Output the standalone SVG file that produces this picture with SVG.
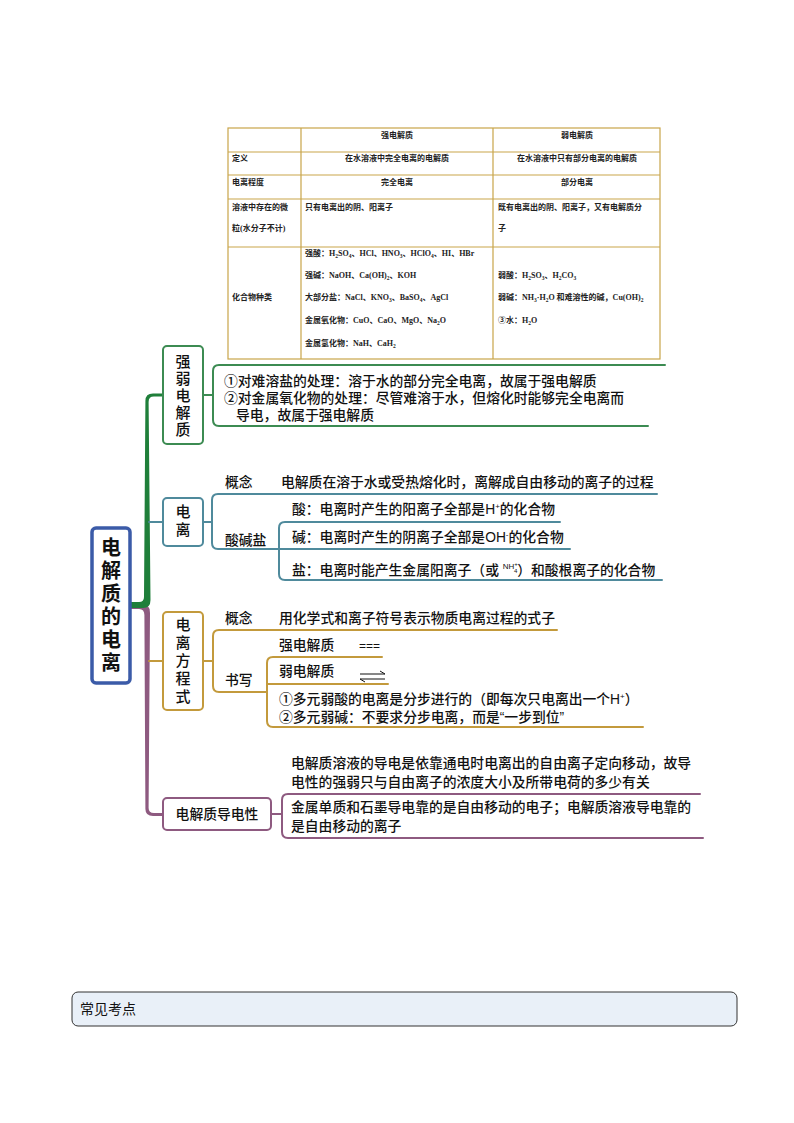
<svg xmlns="http://www.w3.org/2000/svg" width="794" height="1123" viewBox="0 0 794 1123">
<style>
.tb{font-family:"Liberation Serif","Noto Sans CJK SC",serif;font-size:8px;font-weight:bold;fill:#222}
.t{font-family:"Liberation Sans","Noto Sans CJK SC",sans-serif;font-size:13.8px;fill:#111;font-weight:500}
.nv{font-family:"Noto Sans CJK SC",sans-serif;font-size:15px;fill:#111;font-weight:500;writing-mode:vertical-rl}
.cv{font-family:"Noto Sans CJK SC",sans-serif;font-size:20px;fill:#111;font-weight:600;writing-mode:vertical-rl;letter-spacing:3px}
.grid{stroke:#c9a54a;stroke-width:1.2;fill:none}
.ln{fill:none;stroke-width:2;stroke-linecap:round;stroke-linejoin:round}
.g{stroke:#3c8b52}.te{stroke:#4f8a9c}.go{stroke:#c39a3c}.pu{stroke:#8e5a80}
.sup{font-size:8px}
</style>

<g id="table">
<rect x="228" y="128" width="432" height="231" class="grid"/>
<path class="grid" d="M228,152H660M228,175H660M228,199H660M228,247H660M301,128V359M493,128V359"/>
<text class="tb" x="397" y="138" text-anchor="middle">强电解质</text>
<text class="tb" x="577" y="138" text-anchor="middle">弱电解质</text>
<text class="tb" x="232" y="161">定义</text>
<text class="tb" x="397" y="161" text-anchor="middle">在水溶液中完全电离的电解质</text>
<text class="tb" x="577" y="161" text-anchor="middle">在水溶液中只有部分电离的电解质</text>
<text class="tb" x="232" y="185">电离程度</text>
<text class="tb" x="397" y="185" text-anchor="middle">完全电离</text>
<text class="tb" x="577" y="185" text-anchor="middle">部分电离</text>
<text class="tb" x="232" y="210">溶液中存在的微</text>
<text class="tb" x="232" y="231">粒(水分子不计)</text>
<text class="tb" x="305" y="210">只有电离出的阴、阳离子</text>
<text class="tb" x="498" y="210">既有电离出的阴、阳离子，又有电解质分</text>
<text class="tb" x="498" y="231">子</text>
<text class="tb" x="232" y="300">化合物种类</text>
<text class="tb" x="305" y="256">强酸：H<tspan font-size="5.5" dy="2">2</tspan><tspan dy="-2">SO</tspan><tspan font-size="5.5" dy="2">4</tspan><tspan dy="-2">、HCl、HNO</tspan><tspan font-size="5.5" dy="2">3</tspan><tspan dy="-2">、HClO</tspan><tspan font-size="5.5" dy="2">4</tspan><tspan dy="-2">、HI、HBr</tspan></text>
<text class="tb" x="305" y="278">强碱：NaOH、Ca(OH)<tspan font-size="5.5" dy="2">2</tspan><tspan dy="-2">、KOH</tspan></text>
<text class="tb" x="305" y="300">大部分盐：NaCl、KNO<tspan font-size="5.5" dy="2">3</tspan><tspan dy="-2">、BaSO</tspan><tspan font-size="5.5" dy="2">4</tspan><tspan dy="-2">、AgCl</tspan></text>
<text class="tb" x="305" y="323">金属氧化物：CuO、CaO、MgO、Na<tspan font-size="5.5" dy="2">2</tspan><tspan dy="-2">O</tspan></text>
<text class="tb" x="305" y="346">金属氢化物：NaH、CaH<tspan font-size="5.5" dy="2">2</tspan></text>
<text class="tb" x="498" y="278">弱酸：H<tspan font-size="5.5" dy="2">2</tspan><tspan dy="-2">SO</tspan><tspan font-size="5.5" dy="2">3</tspan><tspan dy="-2">、H</tspan><tspan font-size="5.5" dy="2">2</tspan><tspan dy="-2">CO</tspan><tspan font-size="5.5" dy="2">3</tspan></text>
<text class="tb" x="498" y="300">弱碱：NH<tspan font-size="5.5" dy="2">3</tspan><tspan dy="-2">·H</tspan><tspan font-size="5.5" dy="2">2</tspan><tspan dy="-2">O 和难溶性的碱，Cu(OH)</tspan><tspan font-size="5.5" dy="2">2</tspan></text>
<text class="tb" x="498" y="323">③水：H<tspan font-size="5.5" dy="2">2</tspan><tspan dy="-2">O</tspan></text>
</g>

<g id="connectors">
<path fill="#8e5a80" d="M130,603 H140 Q150,603 150,613 L148.6,808 Q148.6,813 154,813 H163 V816 H153 Q145.4,816 145.4,809 L144.4,615 Q144.4,609 139,609 H130 Z"/>
<path fill="#1f7f3a" d="M130,608 H143 Q150.5,608 150.5,600 L148.6,402 Q148.6,396.6 154,396.6 H163 V393.6 H153 Q145.4,393.6 145.4,401 L144,597 Q144,602 139,602 H130 Z"/>
<path class="ln te" d="M149,522 H163"/>
<path class="ln go" d="M149,661 H163"/>
<path class="ln g" d="M203,395 H213 M665,365 H219 Q213,365 213,371 V420 Q213,426 219,426 H648"/>
<path class="ln te" d="M203,522 H212 M657,494 H218 Q212,494 212,500 V543 Q212,549 218,549 H570 M560,522 H285 Q279,522 279,528 V574 Q279,580 285,580 H662"/>
<path class="ln go" d="M203,661 H213 M557,630 H219 Q213,630 213,636 V686 Q213,692 219,692 H267 M382,657 H273 Q267,657 267,663 V721 Q267,727 273,727 H643 M267,684 H388"/>
<path class="ln pu" d="M271,814 H282 M700,794 H288 Q282,794 282,800 V832 Q282,838 288,838 H703"/>
</g>

<g id="central">
<rect x="92" y="528" width="38" height="155" rx="4" fill="#fff" stroke="#3b5ba8" stroke-width="3.5"/>
<text class="cv" x="111" y="537">电解质的电离</text>
</g>

<g id="node-qiangruo">
<rect x="163" y="346" width="40" height="98" rx="4" fill="#fff" stroke="#3c8b52" stroke-width="2"/>
<text class="nv" x="183" y="354" letter-spacing="2">强弱电解质</text>
<text class="t"><tspan x="224" y="386">①对难溶盐的处理：溶于水的部分完全电离，故属于强电解质</tspan><tspan x="224" y="403">②对金属氧化物的处理：尽管难溶于水，但熔化时能够完全电离而</tspan><tspan x="236" y="420">导电，故属于强电解质</tspan></text>
</g>

<g id="node-dianli">
<rect x="163" y="498" width="40" height="48" rx="4" fill="#fff" stroke="#4f8a9c" stroke-width="2"/>
<text class="nv" x="183" y="504" letter-spacing="3">电离</text>
<text class="t" x="225" y="487">概念</text>
<text class="t" x="281" y="487">电解质在溶于水或受热熔化时，离解成自由移动的离子的过程</text>
<text class="t" x="225" y="545">酸碱盐</text>
<text class="t" x="292" y="514">酸：电离时产生的阳离子全部是H<tspan class="sup" dy="-5">+</tspan><tspan dy="5">的化合物</tspan></text>
<text class="t" x="292" y="542">碱：电离时产生的阴离子全部是OH<tspan class="sup" dy="-5">-</tspan><tspan dy="5">的化合物</tspan></text>
<text class="t" x="292" y="575">盐：电离时能产生金属阳离子（或 <tspan font-size="8" dy="-6">NH</tspan><tspan font-size="6" dy="-3">+</tspan><tspan font-size="6" dx="-4" dy="7">4</tspan><tspan dy="2">）和酸根离子的化合物</tspan></text>
</g>

<g id="node-fangchengshi">
<rect x="163" y="612" width="40" height="98" rx="4" fill="#fff" stroke="#c39a3c" stroke-width="2"/>
<text class="nv" x="183" y="617" letter-spacing="3">电离方程式</text>
<text class="t" x="225" y="623">概念</text>
<text class="t" x="279" y="623">用化学式和离子符号表示物质电离过程的式子</text>
<text class="t" x="225" y="685">书写</text>
<text class="t" x="279" y="650">强电解质</text>
<text x="359" y="650" font-family="Liberation Sans,sans-serif" font-size="12" fill="#111">===</text>
<text class="t" x="279" y="676">弱电解质</text>
<path d="M360,674 H385 L380,671 M385,679 H360 L365,682" fill="none" stroke="#111" stroke-width="1"/>
<text class="t"><tspan x="279" y="704">①多元弱酸的电离是分步进行的（即每次只电离出一个H</tspan><tspan class="sup" dy="-5">+</tspan><tspan dy="5">）</tspan><tspan x="279" y="722">②多元弱碱：不要求分步电离，而是“一步到位”</tspan></text>
</g>

<g id="node-daodianxing">
<rect x="163" y="798" width="108" height="32" rx="4" fill="#fff" stroke="#8e5a80" stroke-width="2"/>
<text class="t" x="217" y="819" text-anchor="middle">电解质导电性</text>
<text class="t"><tspan x="291" y="768">电解质溶液的导电是依靠通电时电离出的自由离子定向移动，故导</tspan><tspan x="291" y="787">电性的强弱只与自由离子的浓度大小及所带电荷的多少有关</tspan></text>
<text class="t"><tspan x="291" y="812">金属单质和石墨导电靠的是自由移动的电子；电解质溶液导电靠的</tspan><tspan x="291" y="831">是自由移动的离子</tspan></text>
</g>

<g id="kaodian">
<rect x="72" y="992" width="665" height="34" rx="6" fill="#e9f0f8" stroke="#333" stroke-width="1"/>
<text x="80" y="1014" font-family="Noto Sans CJK SC,sans-serif" font-size="14" fill="#111">常见考点</text>
</g>
</svg>
